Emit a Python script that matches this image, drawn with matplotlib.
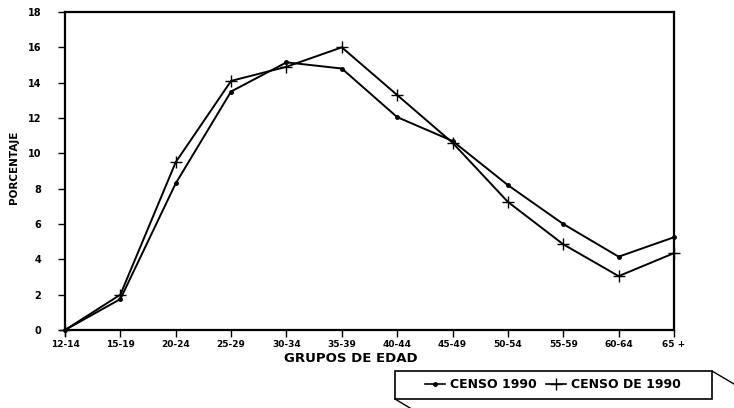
import numpy as np
import matplotlib
matplotlib.use("Agg")
import matplotlib.pyplot as plt
from matplotlib.lines import Line2D
from matplotlib.patches import Rectangle

# age groups and percentages
grupos = ["12-14", "15-19", "20-24", "25-29", "30-34", "35-39",
          "40-44", "45-49", "50-54", "55-59", "60-64", "65 +"]
censo_1990 = [0.0, 1.75, 8.3, 13.5, 15.15, 14.8, 12.05, 10.7, 8.2, 6.0, 4.15, 5.25]
censo_de_1990 = [0.0, 2.0, 9.5, 14.1, 14.9, 16.0, 13.3, 10.6, 7.25, 4.85, 3.05, 4.35]
yticks = list(range(0, 19, 2))

W, H = 734, 408

def px(xp, yp):
    return xp / W, 1 - yp / H

fig = plt.figure(figsize=(7.34, 4.08), dpi=100)
ax = fig.add_axes([65 / W, 1 - 330 / H, 609 / W, 318 / H])

x = np.arange(len(grupos))
ax.plot(x, censo_1990, color="black", lw=1.4, marker="o", ms=2.5,
        clip_on=False)
ax.plot(x, censo_de_1990, color="black", lw=1.4, marker="+", ms=8,
        mew=1.0, clip_on=False)

ax.set_xlim(0, len(grupos) - 1)
ax.set_ylim(0, 18)
ax.set_xticks(x)
ax.set_xticklabels(grupos, fontsize=6.5, fontweight="bold")
ax.set_yticks(yticks)
ax.set_yticklabels([str(v) for v in yticks], fontsize=7, fontweight="bold")
ax.tick_params(axis="both", direction="out", length=5, width=1.0)
ax.tick_params(axis="x", pad=2)
ax.tick_params(axis="y", pad=12)
for s in ax.spines.values():
    s.set_linewidth(1.6)

fig.text(*px(351, 358), "GRUPOS DE EDAD", fontsize=9.5, fontweight="bold",
         ha="center", va="center")
fig.text(*px(14, 167), "PORCENTAJE", rotation=90, fontsize=7.5,
         fontweight="bold", ha="center", va="center")

# legend box with slanted "3D" edges like the original
x0, y0 = px(395, 399)
x1, y1 = px(712, 371)
fig.add_artist(Rectangle((x0, y0), x1 - x0, y1 - y0, transform=fig.transFigure,
                         fill=False, edgecolor="black", lw=1.2))
for (a0, b0), (a1, b1) in [((712, 371), (734, 384)), ((395, 399), (410, 408))]:
    a, b = px(a0, b0)
    c, d = px(a1, b1)
    fig.add_artist(Line2D([a, c], [b, d], color="black", lw=1.0))

handles = [Line2D([], [], color="black", lw=1.2, marker="o", ms=2.5),
           Line2D([], [], color="black", lw=1.2, marker="+", ms=8, mew=1.0)]
fig.legend(handles, ["CENSO 1990", "CENSO DE 1990"], ncol=2,
           loc="center", bbox_to_anchor=px(553, 385), frameon=False,
           prop={"size": 9, "weight": "bold"}, handlelength=1.6,
           handletextpad=0.4, columnspacing=0.8)

fig.savefig("out.png", dpi=100)
